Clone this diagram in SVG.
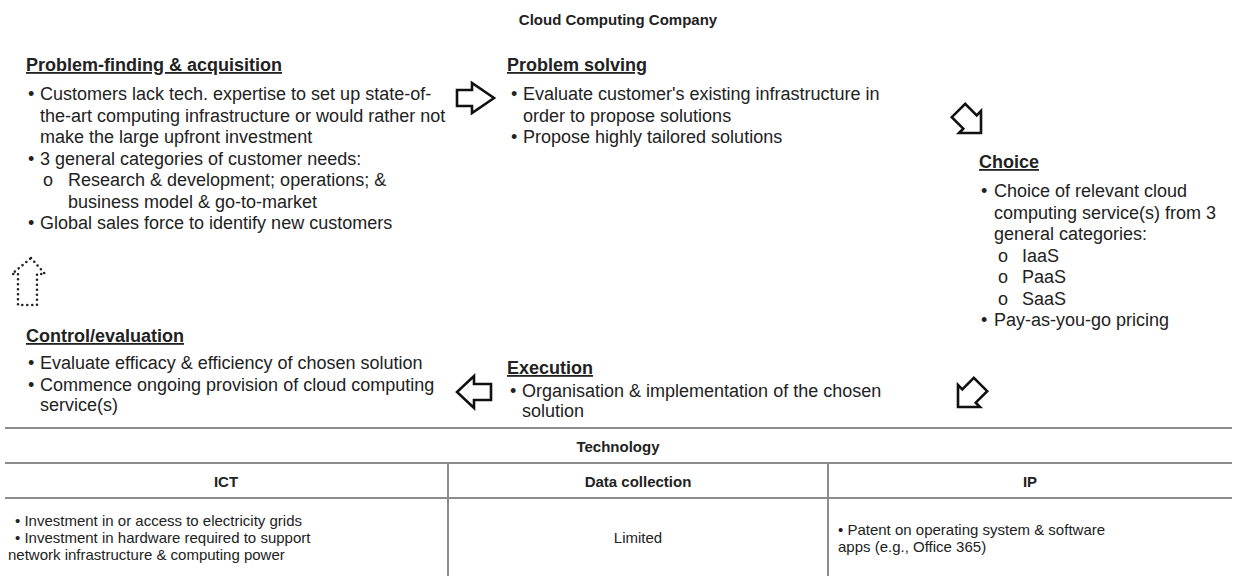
<svg xmlns="http://www.w3.org/2000/svg" width="1236" height="576" viewBox="0 0 1236 576">
<style>
text{font-family:"Liberation Sans",Arial,sans-serif;fill:#222}
.t{font-size:18px}
.h{font-size:18px;font-weight:bold;text-decoration:underline}
.ttl{font-size:15px;font-weight:bold}
.tb{font-size:15px}
.tbh{font-size:15px;font-weight:bold}
.arr{fill:#fff;stroke:#111;stroke-width:2.6;stroke-linejoin:miter}
.dot{fill:none;stroke:#222;stroke-width:2.6;stroke-dasharray:0 5;stroke-linecap:round}
.grid{stroke:#8c8c8c;stroke-width:2;fill:none}
</style>
<rect width="1236" height="576" fill="#fff"/>
<text class="ttl" x="618" y="25" text-anchor="middle">Cloud Computing Company</text>

<g id="problem-finding">
<text class="h" x="26" y="71">Problem-finding &amp; acquisition</text>
<text class="t" x="28" y="100">•</text><text class="t" x="40" y="100">Customers lack tech. expertise to set up state-of-</text>
<text class="t" x="40" y="121.5">the-art computing infrastructure or would rather not</text>
<text class="t" x="40" y="143">make the large upfront investment</text>
<text class="t" x="28" y="164.5">•</text><text class="t" x="40" y="164.5">3 general categories of customer needs:</text>
<text class="t" x="43" y="186">o</text><text class="t" x="68" y="186">Research &amp; development; operations; &amp;</text>
<text class="t" x="68" y="207.5">business model &amp; go-to-market</text>
<text class="t" x="28" y="229">•</text><text class="t" x="40" y="229">Global sales force to identify new customers</text>
</g>

<g id="problem-solving">
<text class="h" x="507" y="71">Problem solving</text>
<text class="t" x="511" y="100">•</text><text class="t" x="523" y="100">Evaluate customer's existing infrastructure in</text>
<text class="t" x="523" y="121.5">order to propose solutions</text>
<text class="t" x="511" y="143">•</text><text class="t" x="523" y="143">Propose highly tailored solutions</text>
</g>

<g id="choice">
<text class="h" x="979" y="168">Choice</text>
<text class="t" x="981" y="197">•</text><text class="t" x="994" y="197">Choice of relevant cloud</text>
<text class="t" x="994" y="218.5">computing service(s) from 3</text>
<text class="t" x="994" y="240">general categories:</text>
<text class="t" x="998" y="261.5">o</text><text class="t" x="1022" y="261.5">IaaS</text>
<text class="t" x="998" y="283">o</text><text class="t" x="1022" y="283">PaaS</text>
<text class="t" x="998" y="304.5">o</text><text class="t" x="1022" y="304.5">SaaS</text>
<text class="t" x="981" y="326">•</text><text class="t" x="994" y="326">Pay-as-you-go pricing</text>
</g>

<g id="execution">
<text class="h" x="507" y="374">Execution</text>
<text class="t" x="510" y="397">•</text><text class="t" x="522" y="397">Organisation &amp; implementation of the chosen</text>
<text class="t" x="522" y="417">solution</text>
</g>

<g id="control-evaluation">
<text class="h" x="26" y="342">Control/evaluation</text>
<text class="t" x="28" y="369">•</text><text class="t" x="40" y="369">Evaluate efficacy &amp; efficiency of chosen solution</text>
<text class="t" x="28" y="390.5">•</text><text class="t" x="40" y="390.5">Commence ongoing provision of cloud computing</text>
<text class="t" x="40" y="411">service(s)</text>
</g>

<g id="connectors">
<polygon class="arr" points="457,90 472,90 472,83 494,98 472,113 472,106 457,106"/>
<polygon class="arr" points="981,133 981,111 976.7,115.3 965.2,103.8 951.8,117.2 963.3,128.7 959,133"/>
<polygon class="arr" points="958,407 958,385 962.3,389.3 973.8,377.8 987.2,391.2 975.7,402.7 980,407"/>
<polygon class="arr" points="491,384 474,384 474,376 457,392 474,408 474,400 491,400"/>
<polygon class="dot" points="31,258 45,274 37,274 37,305 18,305 18,274 12,274"/>
</g>

<g id="technology-table">
<line class="grid" x1="5" y1="428" x2="1232" y2="428"/>
<text class="tbh" x="618" y="452" text-anchor="middle">Technology</text>
<line class="grid" x1="5" y1="463" x2="1232" y2="463"/>
<line class="grid" x1="5" y1="498" x2="1232" y2="498"/>
<line class="grid" x1="448" y1="463" x2="448" y2="576"/>
<line class="grid" x1="828" y1="463" x2="828" y2="576"/>
<text class="tbh" x="226" y="487" text-anchor="middle">ICT</text>
<text class="tbh" x="638" y="487" text-anchor="middle">Data collection</text>
<text class="tbh" x="1030" y="487" text-anchor="middle">IP</text>
<text class="tb" x="15" y="526">•  Investment in or access to electricity grids</text>
<text class="tb" x="15" y="543">•  Investment in hardware required to support</text>
<text class="tb" x="8" y="560">network infrastructure &amp; computing power</text>
<text class="tb" x="638" y="543" text-anchor="middle">Limited</text>
<text class="tb" x="838" y="535">•  Patent on operating system &amp; software</text>
<text class="tb" x="838" y="552">apps (e.g., Office 365)</text>
</g>
</svg>
